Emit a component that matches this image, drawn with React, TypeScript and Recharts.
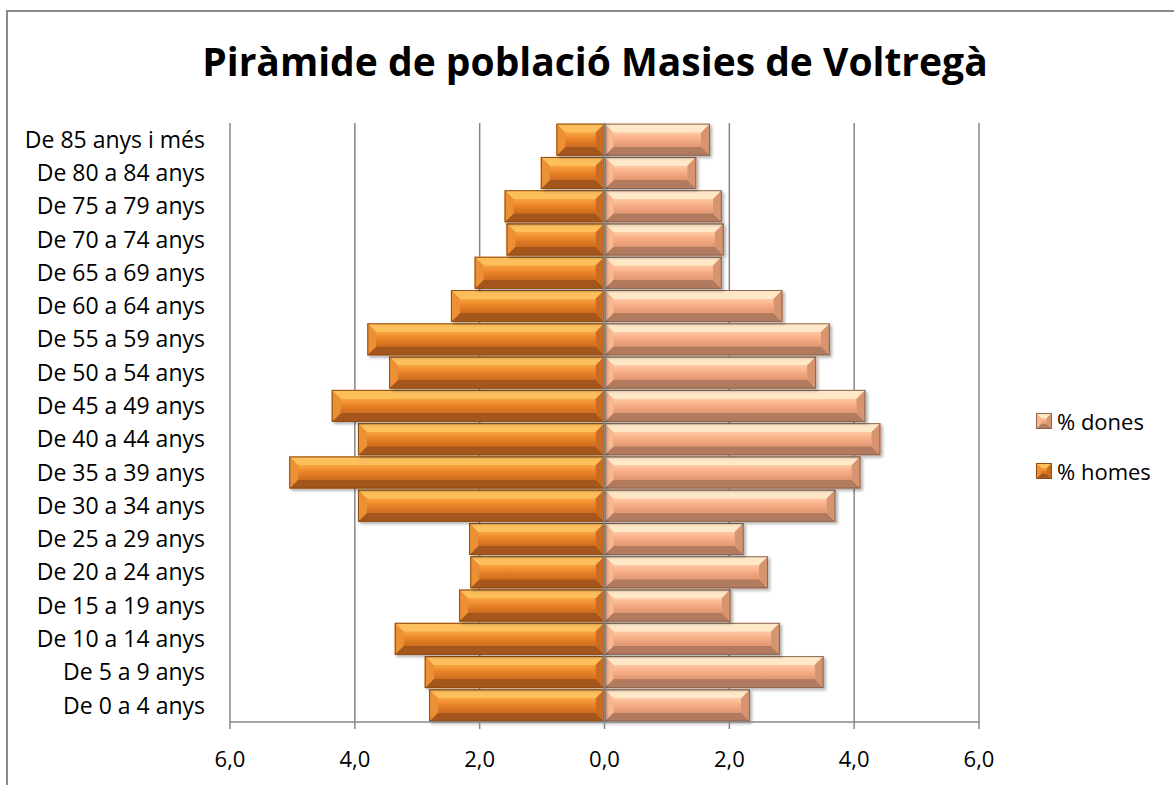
import React from 'react';
import { BarChart, Bar, XAxis, YAxis, CartesianGrid, ReferenceLine } from 'recharts';

// grups d'edat, de baix a dalt de la piràmide
const grups = [
    'De 0 a 4 anys', 'De 5 a 9 anys', 'De 10 a 14 anys', 'De 15 a 19 anys',
    'De 20 a 24 anys', 'De 25 a 29 anys', 'De 30 a 34 anys', 'De 35 a 39 anys',
    'De 40 a 44 anys', 'De 45 a 49 anys', 'De 50 a 54 anys', 'De 55 a 59 anys',
    'De 60 a 64 anys', 'De 65 a 69 anys', 'De 70 a 74 anys', 'De 75 a 79 anys',
    'De 80 a 84 anys', 'De 85 anys i més',
];

const homes = [2.81, 2.88, 3.36, 2.33, 2.15, 2.17, 3.95, 5.05, 3.95, 4.37, 3.45, 3.80, 2.46, 2.08, 1.57, 1.60, 1.02, 0.77];
const dones = [2.33, 3.51, 2.81, 2.02, 2.62, 2.23, 3.70, 4.10, 4.42, 4.18, 3.39, 3.61, 2.85, 1.88, 1.91, 1.88, 1.47, 1.69];

const xTicks = [-6, -4, -2, 0, 2, 4, 6];

const data = grups.map((g, i) => ({ grup: g, homes: -homes[i], dones: dones[i] }));

const FONT = '"Open Sans", "Noto Sans", sans-serif';
const GRID = '#878787';

const palettes: Record<string, any> = {
    homes: { top: '#FDBF5C', left: '#EC9034', right: '#C96C22', bottom: '#A5561B', c1: '#EE8C2E', stroke: '#8F4D18' },
    dones: { top: '#FFE8C8', left: '#F8B892', right: '#D6956F', bottom: '#B27A5E', c1: '#F9B48A', stroke: '#8C6653' },
};

const BevelBar = (props: any) => {
    const { x, y, width, height, kind } = props;
    if (width == null || height == null) return null;
    const x0 = Math.min(x, x + width);
    const w = Math.abs(width);
    const y0 = Math.min(y, y + height);
    const h = Math.abs(height);
    if (w < 1) return null;
    const p = palettes[kind];
    const b = Math.min(9, h / 3, w / 2);
    const pts = (arr: number[][]) => arr.map(a => a.join(',')).join(' ');
    return (
        <g filter="url(#ombra)">
            <rect x={x0} y={y0} width={w} height={h} fill={p.c1} />
            <polygon points={pts([[x0, y0], [x0 + w, y0], [x0 + w - b, y0 + b], [x0 + b, y0 + b]])} fill={p.top} />
            <polygon points={pts([[x0, y0 + h], [x0 + w, y0 + h], [x0 + w - b, y0 + h - b], [x0 + b, y0 + h - b]])} fill={p.bottom} />
            <polygon points={pts([[x0, y0], [x0 + b, y0 + b], [x0 + b, y0 + h - b], [x0, y0 + h]])} fill={p.left} />
            <polygon points={pts([[x0 + w, y0], [x0 + w - b, y0 + b], [x0 + w - b, y0 + h - b], [x0 + w, y0 + h]])} fill={p.right} />
            <rect x={x0 + b} y={y0 + b} width={Math.max(0, w - 2 * b)} height={Math.max(0, h - 2 * b)} fill={`url(#grad-${kind})`} />
            <rect x={x0 + 0.5} y={y0 + 0.5} width={w - 1} height={h - 1} fill="none" stroke={p.stroke} strokeWidth={1} />
        </g>
    );
};

const Swatch: React.FC<{ kind: string }> = ({ kind }) => (
    <svg width={16} height={16} style={{ marginRight: 5 }}>
        <BevelBar x={0} y={0} width={16} height={16} kind={kind} />
    </svg>
);

const legendItems = [['dones', '% dones'], ['homes', '% homes']];

const fmt = (v: number) => Math.abs(v).toFixed(1).replace('.', ',');

export default function App() {
    return (
        <div style={{ position: 'absolute', top: 0, left: 0, width: 1174, height: 785, overflow: 'hidden', background: '#fff' }}>
            <div style={{ position: 'absolute', left: 6, top: 10, width: 1200, height: 800, borderLeft: '2px solid #8a8a8a', borderTop: '2px solid #8a8a8a' }} />
            <div style={{ position: 'absolute', left: 0, top: 41, width: 1190, textAlign: 'center', fontFamily: FONT, fontWeight: 700, fontSize: 39, lineHeight: '39px', color: '#000', whiteSpace: 'nowrap' }}>
                Piràmide de població Masies de Voltregà
            </div>
            <div style={{ position: 'absolute', left: 0, top: 0 }}>
                <BarChart
                    width={1174}
                    height={785}
                    data={data}
                    layout="vertical"
                    stackOffset="sign"
                    barCategoryGap="2%"
                    margin={{ top: 123, right: 195, bottom: 33, left: 0 }}
                >
                    <defs>
                        <linearGradient id="grad-homes" x1="0" y1="0" x2="0" y2="1">
                            <stop offset="0%" stopColor="#F8A43F" />
                            <stop offset="45%" stopColor="#EB8428" />
                            <stop offset="100%" stopColor="#CD6C1E" />
                        </linearGradient>
                        <linearGradient id="grad-dones" x1="0" y1="0" x2="0" y2="1">
                            <stop offset="0%" stopColor="#FEC9A4" />
                            <stop offset="45%" stopColor="#F7AD85" />
                            <stop offset="100%" stopColor="#E19872" />
                        </linearGradient>
                        <filter id="ombra" x="-5%" y="-20%" width="115%" height="150%">
                            <feDropShadow dx="2" dy="2" stdDeviation="1.5" floodColor="#000" floodOpacity="0.3" />
                        </filter>
                    </defs>
                    <CartesianGrid horizontal={false} stroke={GRID} strokeWidth={1.5} />
                    <XAxis
                        type="number"
                        domain={[-6, 6]}
                        ticks={xTicks}
                        tickFormatter={fmt}
                        height={30}
                        axisLine={{ stroke: GRID, strokeWidth: 1.5 }}
                        tickLine={{ stroke: GRID, strokeWidth: 1.5 }}
                        tickSize={7}
                        tickMargin={22}
                        tick={{ fill: '#000', fontSize: 22, fontFamily: FONT }}
                    />
                    <YAxis
                        type="category"
                        dataKey="grup"
                        reversed
                        width={230}
                        axisLine={false}
                        tickLine={false}
                        tickSize={6}
                        tickMargin={19}
                        interval={0}
                        tick={{ fill: '#000', fontSize: 23, fontFamily: FONT }}
                    />
                    <Bar dataKey="dones" name="% dones" stackId="p" isAnimationActive={false} shape={(p: any) => <BevelBar {...p} kind="dones" />} />
                    <Bar dataKey="homes" name="% homes" stackId="p" isAnimationActive={false} shape={(p: any) => <BevelBar {...p} kind="homes" />} />
                    <ReferenceLine x={0} stroke={GRID} strokeWidth={2} />
                </BarChart>
            </div>
            <div style={{ position: 'absolute', left: 1036, top: 396, fontFamily: FONT, fontSize: 22, color: '#000' }}>
                {legendItems.map(([k, label]) => (
                    <div key={k} style={{ display: 'flex', alignItems: 'center', height: 50 }}>
                        <Swatch kind={k} />
                        <span>{label}</span>
                    </div>
                ))}
            </div>
        </div>
    );
}
